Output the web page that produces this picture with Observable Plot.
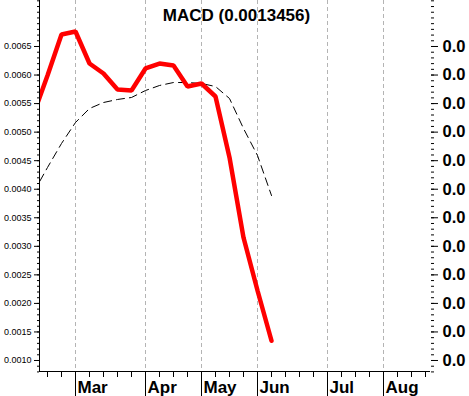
<!DOCTYPE html>
<html><head><meta charset="utf-8">
<script src="https://cdn.jsdelivr.net/npm/d3@7"></script>
<script src="https://cdn.jsdelivr.net/npm/@observablehq/plot@0.6"></script>
<style>body{margin:0;background:#fff}#chart svg{display:block}</style>
</head><body><div id="chart"></div>
<script>
const title = "MACD (0.0013456)";
const weeks = [0,1,2,3,4,5,6,7,8,9,10,11,12,13,14,15,16,17];
const macd = [0.005309,0.005992,0.006710,0.006763,0.006202,0.006027,0.005747,0.005729,0.006115,0.006202,0.006167,0.005799,0.005852,0.005624,0.004556,0.003154,0.002226,0.001346];
const signal = [0.003943,0.004381,0.004801,0.005169,0.005414,0.005519,0.005572,0.005607,0.005729,0.005817,0.005869,0.005869,0.005852,0.005799,0.005589,0.005064,0.004591,0.003890];
const monthLabels = ["Mar","Apr","May","Jun","Jul","Aug"];
const monthWeeks = [3,8,12,16,21,25];
const yMajor = [0.0010,0.0015,0.0020,0.0025,0.0030,0.0035,0.0040,0.0045,0.0050,0.0055,0.0060,0.0065];

const data = weeks.map((w,i)=>({week:w, macd:macd[i], signal:signal[i]}));
const yMinor = d3.range(8,74).map(d=>d/10000);
const weekTicks = d3.range(1,29);
const xDomain = [6/14, 397/14];
const yDomain = [0.0008073, 0.0073057];
const font = "Liberation Sans, Arial, sans-serif";

const chart = Plot.plot({
  width: 469, height: 396,
  marginLeft: 39, marginRight: 39, marginTop: 0, marginBottom: 25,
  style: {fontFamily: font, background: "#fff", color: "#000"},
  x: {type: "linear", domain: xDomain, label: null},
  y: {type: "linear", domain: yDomain, label: null},
  marks: [
    Plot.ruleX(monthWeeks, {x: d=>d, stroke: "#b4b4b4", strokeDasharray: "4,3", strokeWidth: 1}),
    Plot.line(data, {x: "week", y: "signal", stroke: "#000", strokeWidth: 1, strokeDasharray: "8,5", clip: true}),
    Plot.line(data, {x: "week", y: "macd", stroke: "#ff0000", strokeWidth: 4.5, strokeLinejoin: "miter", clip: true}),
    Plot.ruleX([xDomain[0]], {stroke: "#000", strokeWidth: 1}),
    Plot.ruleY([yDomain[0]], {stroke: "#000", strokeWidth: 1}),
    Plot.axisY({anchor: "left", label: null, ticks: yMinor, tickSize: 2, tickFormat: () => "", stroke: "#000"}),
    Plot.axisY({anchor: "left", label: null, ticks: yMajor, tickSize: 5, tickPadding: 3, tickFormat: d3.format(".4f"), fontSize: 9, stroke: "#000", fill: "#000"}),
    Plot.axisY({anchor: "right", label: null, ticks: yMinor, tickSize: 3, tickFormat: () => "", stroke: "#000"}),
    Plot.axisY({anchor: "right", label: null, ticks: yMajor, tickSize: 7, tickPadding: 5, tickFormat: d3.format(".1f"), fontSize: 16.5, fontWeight: "bold", stroke: "#000", fill: "#000"}),
    Plot.axisX({anchor: "bottom", label: null, ticks: weekTicks, tickSize: 6, tickFormat: () => "", stroke: "#000"}),
    Plot.axisX({anchor: "bottom", label: null, ticks: monthWeeks, tickSize: 25, tickFormat: () => "", stroke: "#000"}),
    Plot.text(monthWeeks, {x: d=>d, text: (d,i)=>monthLabels[i], frameAnchor: "bottom", textAnchor: "start", lineAnchor: "bottom", dx: 2, dy: 21.5, fontSize: 17, fontWeight: "bold", fill: "#000"}),
    Plot.text([title], {frameAnchor: "top", text: d=>d, lineAnchor: "bottom", dy: 20, dx: 1.5, fontSize: 17, fontWeight: "bold", fill: "#000"})
  ]
});
document.getElementById("chart").appendChild(chart);
</script>
</body></html>
